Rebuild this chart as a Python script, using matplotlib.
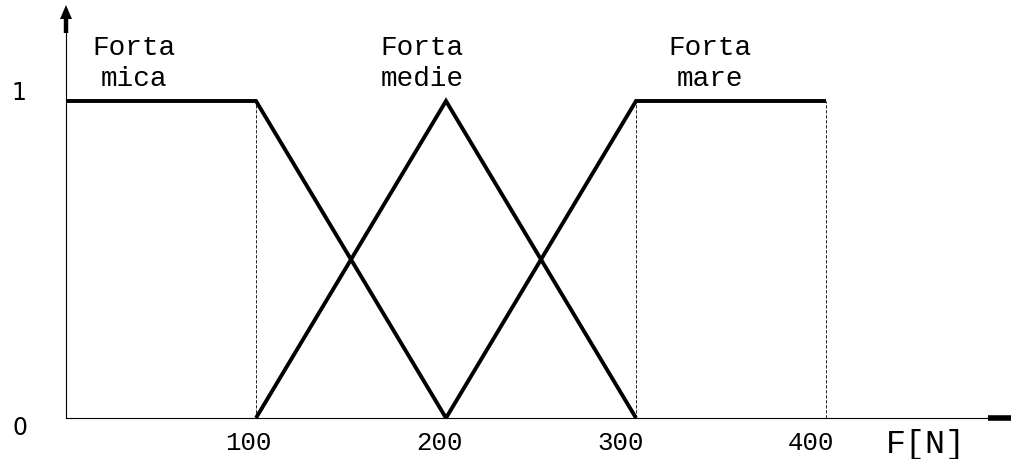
import matplotlib
matplotlib.use("Agg")
import matplotlib.pyplot as plt

# membership functions (force in N -> degree)
mica_x = [0, 100, 200]
mica_y = [1, 1, 0]
medie_x = [100, 200, 300]
medie_y = [0, 1, 0]
mare_x = [200, 300, 400]
mare_y = [0, 1, 1]

set_top = ["Forta", "Forta", "Forta"]
set_bottom = ["mica", "medie", "mare"]
xticks = [100, 200, 300, 400]
guide_x = [100, 300, 400]

MONO = "Liberation Mono"

fig = plt.figure(figsize=(10.11, 4.59), dpi=100)
ax = fig.add_axes([0, 0, 1, 1])
# pixel mapping: x=0 -> 66px, 100 units = 190px; y=0 -> 418px, y=1 -> 101px
ax.set_xlim(-66 / 1.9, (1011 - 66) / 1.9)
ax.set_ylim(-(459 - 418) / 317, 418 / 317)
ax.axis("off")


def px(p):
    return (p - 66) / 1.9


def py(p):
    return (418 - p) / 317


# y axis with arrow
ax.plot([0, 0], [0, py(30)], color="black", lw=0.8)
ax.plot([0, 0], [py(33), py(15)], color="black", lw=3.2, solid_capstyle="butt")
ax.fill([px(60), px(72), px(66)], [py(19), py(19), py(5)], color="black", lw=0)
# x axis with thick end
ax.plot([0, px(1011)], [0, 0], color="black", lw=0.8)
ax.plot([px(988), px(1011)], [0, 0], color="black", lw=4.0, solid_capstyle="butt")

# dashed guides
for gx in guide_x:
    ax.plot([gx, gx], [0, 1], color="black", lw=0.6, ls=(0, (4, 2)))

# membership functions
for xs, ys in [(mica_x, mica_y), (medie_x, medie_y), (mare_x, mare_y)]:
    ax.plot(xs, ys, color="black", lw=2.8, solid_capstyle="butt",
            solid_joinstyle="miter")

label_cx = [134, 422, 710]
for top, bot, cx in zip(set_top, set_bottom, label_cx):
    ax.text(px(cx), py(55), top, family=MONO, fontsize=20, ha="center",
            va="baseline")
    ax.text(px(cx), py(86), bot, family=MONO, fontsize=20, ha="center",
            va="baseline")

tick_shift = [-8, -7, -15, -15]
for t, dx in zip(xticks, tick_shift):
    ax.text(t + dx / 1.9, py(450), str(t), family=MONO, fontsize=18.5,
            ha="center", va="baseline")
ax.text(px(926), py(453), "F[N]", family=MONO, fontsize=24,
        ha="center", va="baseline")

ax.text(px(19), py(100), "1", family="DejaVu Sans", fontsize=17,
        ha="center", va="baseline")
ax.text(px(20), py(435), "0", family="DejaVu Sans", fontsize=17,
        ha="center", va="baseline")

fig.savefig("out.png", dpi=100)
